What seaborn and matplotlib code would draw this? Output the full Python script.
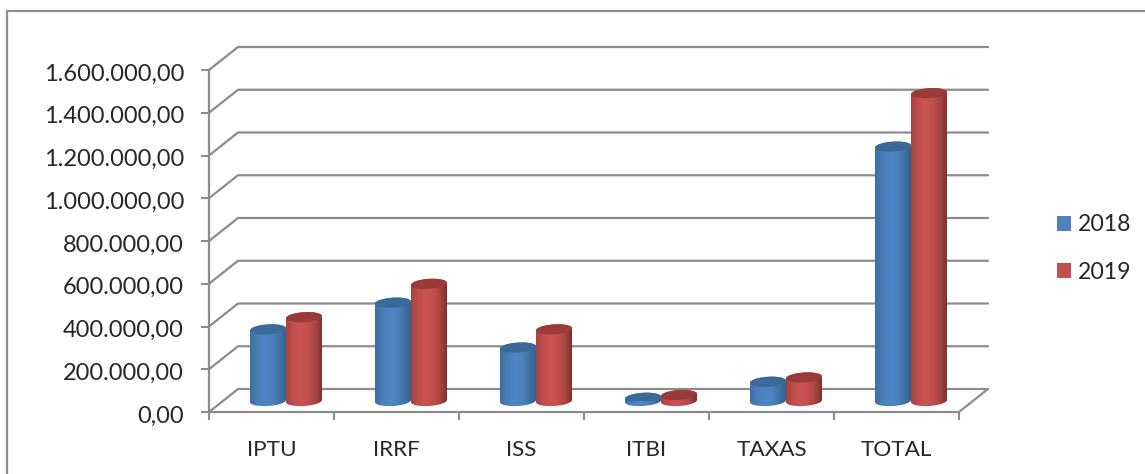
import numpy as np
import pandas as pd
import matplotlib
matplotlib.use("Agg")
import matplotlib.pyplot as plt
from matplotlib.colors import LinearSegmentedColormap
from matplotlib.patches import Polygon, Rectangle
from matplotlib.transforms import IdentityTransform, ScaledTranslation
import seaborn as sns

categories = ["IPTU", "IRRF", "ISS", "ITBI", "TAXAS", "TOTAL"]
values_2018 = [335000, 460000, 250000, 15000, 90000, 1190000]
values_2019 = [392000, 548000, 335000, 28000, 110000, 1440000]
y_ticks = [0, 200000, 400000, 600000, 800000, 1000000, 1200000, 1400000, 1600000]
y_labels = ["0,00", "200.000,00", "400.000,00", "600.000,00", "800.000,00",
            "1.000.000,00", "1.200.000,00", "1.400.000,00", "1.600.000,00"]

W, H = 1145, 474
sns.set_theme(style="white")
plt.rcParams["font.family"] = ["Lato", "DejaVu Sans"]
TEXT = "#262626"
GRID = "#8c8c8c"

fig = plt.figure(figsize=(W / 100, H / 100), dpi=100, facecolor="white")
fig.add_artist(Rectangle((7 / W, -0.1), 1.1, 1.1 - 11 / H, transform=fig.transFigure,
                         fill=False, ec="#8f8f8f", lw=1.6))

def ax_rect(dx=0, dy=0):
    return [(209 + dx) / W, (H - 412 + dy) / H, 750 / W, 342 / H]

ax = fig.add_axes(ax_rect())
ax.set_facecolor("none")
ax.set_xlim(-0.5, 5.5)
ax.set_ylim(0, 1600000)
ax.set_yticks(y_ticks, y_labels)
ax.set_xticks(range(len(categories)), categories)
ax.set_xticks(np.arange(-0.5, 6.0, 1), minor=True)
ax.tick_params(axis="y", length=6, width=1.5, color=GRID, pad=12, labelsize=17, labelcolor=TEXT, left=True)
ax.tick_params(axis="x", which="major", length=0, pad=20, labelsize=16.2, labelcolor=TEXT)
ax.tick_params(axis="x", which="minor", length=6, width=1.5, color=GRID, bottom=True)
for lab in ax.get_yticklabels():
    lab.set_transform(lab.get_transform() + ScaledTranslation(0, -2 / 100, fig.dpi_scale_trans))
sns.despine(ax=ax)
for s in ("left", "bottom"):
    ax.spines[s].set_color(GRID)
    ax.spines[s].set_linewidth(1.6)

depth_x, depth_y = 29 / 125, 23 / 42.75 * 200000
for v in y_ticks:
    ax.plot([-0.5, -0.5 + depth_x, 5.5 + depth_x], [v, v + depth_y, v + depth_y],
            color=GRID, lw=1.6, clip_on=False, zorder=1, solid_joinstyle="miter")
ax.plot([5.5, 5.5 + depth_x], [0, depth_y], color=GRID, lw=1.6, clip_on=False, zorder=1)

bars_ax = fig.add_axes(ax_rect(14.5, 11), zorder=3)
bars_ax.set_facecolor("none")
df = pd.DataFrame({
    "categoria": categories * 2,
    "valor": values_2018 + values_2019,
    "ano": ["2018"] * 6 + ["2019"] * 6,
})
sns.barplot(data=df, x="categoria", y="valor", hue="ano", ax=bars_ax, width=0.576, gap=0,
            palette={"2018": "#4f81bd", "2019": "#c0504d"}, saturation=1, linewidth=0)
bars_ax.set_xlim(-0.5, 5.5)
bars_ax.set_ylim(0, 1600000)
bars_ax.axis("off")

cmaps = [
    LinearSegmentedColormap.from_list("b", ["#3f6fa2", "#4a7db8", "#4f86c6", "#4c82bf", "#4374a9", "#34628f"]),
    LinearSegmentedColormap.from_list("r", ["#a64341", "#c04e4b", "#cb5451", "#c2504d", "#ab4644", "#823130"]),
]
top_colors = ["#3b6a9a", "#9a3b39"]
grad = np.linspace(0, 1, 64)[None, :]
B = 5.0
SLOPE = 0.06
t = np.linspace(0, np.pi, 40)

for i, cont in enumerate(bars_ax.containers):
    for bar in cont:
        x0 = bar.get_x()
        w = bar.get_width()
        h = bar.get_height()
        (px0, py0) = bars_ax.transData.transform((x0, 0))
        (px1, py1) = bars_ax.transData.transform((x0 + w, h))
        a = (px1 - px0) / 2
        cx = (px0 + px1) / 2
        bx = cx - a * np.cos(t)
        by = py0 - a * np.cos(t) * SLOPE - B * np.sin(t)
        tx = cx + a * np.cos(t)
        ty = py1 + a * np.cos(t) * SLOPE + B * np.sin(t)
        body = Polygon(np.c_[np.r_[bx, tx], np.r_[by, ty]], closed=True, transform=IdentityTransform(),
                       fc="none", ec="none")
        bars_ax.add_patch(body)
        body.set_clip_on(False)
        im = bars_ax.imshow(grad, cmap=cmaps[i], aspect="auto", interpolation="bilinear",
                            extent=(x0, x0 + w, -60000, h + 60000), zorder=3 + i)
        im.set_clip_box(fig.bbox)
        im.set_clip_path(body)
        cap = Polygon(np.c_[np.r_[cx + a * np.cos(t), cx - a * np.cos(t)],
                            np.r_[py1 + a * np.cos(t) * SLOPE + B * np.sin(t),
                                  py1 - a * np.cos(t) * SLOPE - B * np.sin(t)]],
                      closed=True, transform=IdentityTransform(), fc=top_colors[i], ec="none", zorder=3.5 + i)
        bars_ax.add_patch(cap)
        bar.set_visible(False)
bars_ax.set_xlim(-0.5, 5.5)
bars_ax.set_ylim(0, 1600000)

sns.move_legend(bars_ax, loc="center left", bbox_to_anchor=(1057 / W, (H - 248.5) / H),
                bbox_transform=fig.transFigure, frameon=False, title=None, fontsize=16.6,
                handlelength=0.6, handleheight=0.6, handletextpad=0.3, labelspacing=1.13,
                borderpad=0, borderaxespad=0, labelcolor=TEXT)

fig.savefig("out.png", dpi=100, facecolor="white")
